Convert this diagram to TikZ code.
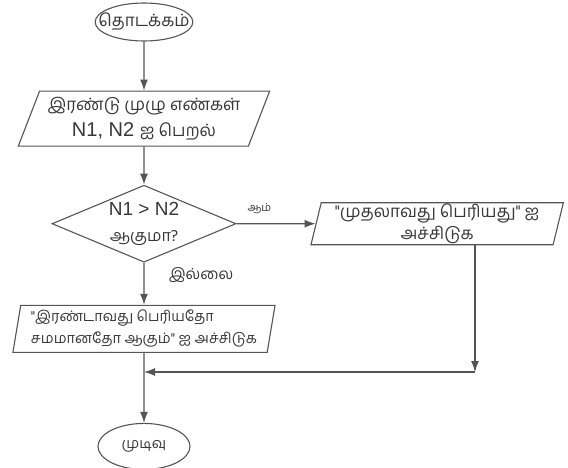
\documentclass[tikz,border=0pt]{standalone}
\usepackage{fontspec}
\setmainfont{Liberation Sans}
\newfontfamily\tamil[Script=Tamil,Scale=0.85]{Hind Madurai}
\usetikzlibrary{arrows.meta,shapes.geometric,positioning}
\definecolor{linegray}{RGB}{85,85,85}
\definecolor{textgray}{RGB}{55,55,55}

\begin{document}
\begin{tikzpicture}[>={Latex[length=11pt,width=8pt]},x=1pt,y=-1pt,
    font=\fontsize{20}{26}\selectfont]

  \tikzstyle{term}=[ellipse, draw=linegray, line width=1.1pt, text=textgray, inner ysep=0pt];
  \tikzstyle{io}=[trapezium, draw=linegray, line width=1.1pt, trapezium stretches=true,
    text=textgray, inner sep=2pt, align=center];
  \tikzstyle{dec}=[diamond, draw=linegray, line width=1.1pt, text=textgray, inner sep=-4pt,
    aspect=2.4, align=center, minimum width=184pt, minimum height=77pt];
  \tikzstyle{flow}=[draw=linegray, line width=1.1pt, ->];
  \tikzstyle{lbl}=[text=textgray];

  \useasboundingbox (0,0) rectangle (568,468);

  \node [term, minimum width=97pt, minimum height=38pt, inner xsep=-11pt] (start)
    at (144,22) {\tamil தொடக்கம்};

  \node [io, below=49pt of start, minimum width=252pt, minimum height=55pt,
    trapezium left angle=67, trapezium right angle=113] (input)
    {\tamil இரண்டு முழு எண்கள்\\N1, N2 {\tamil ஐ பெறல்}};

  \node [dec, below=38pt of input, font=\fontsize{19}{26}\selectfont] (test)
    {N1 > N2\\{\tamil ஆகுமா?}};

  \node [io, right=79pt of test, minimum width=253pt, minimum height=42pt,
    inner ysep=0pt, trapezium left angle=77, trapezium right angle=103,
    font=\fontsize{20}{22}\selectfont] (pyes)
    {\tamil "முதலாவது பெரியது" ஐ\\\tamil அச்சிடுக};

  \node [io, below=42pt of test, minimum width=263pt, minimum height=47pt,
    trapezium left angle=80, trapezium right angle=100, align=left,
    font=\fontsize{17}{22}\selectfont] (pno)
    {\tamil "இரண்டாவது பெரியதோ\\\tamil சமமானதோ ஆகும்" ஐ அச்சிடுக};

  \node [term, below=70pt of pno, minimum width=92pt, minimum height=46pt,
    font=\fontsize{17}{20}\selectfont] (end) {\tamil முடிவு};

  \coordinate (join) at (475,372);

  \draw[flow] (start) -- (input);
  \draw[flow] (input) -- (test);
  \draw[flow] (test) -- node[lbl, above, pos=0.29, yshift=6pt,
    font=\tamil\fontsize{13}{15}\selectfont] {ஆம்} (pyes);
  \draw[flow] (test) -- node[lbl, right, pos=0.29, xshift=21pt,
    font=\tamil\fontsize{18}{20}\selectfont] {இல்லை} (pno);
  \draw[flow] (pyes.south -| join) -- (join);
  \draw[flow] (join) -- (join -| pno.south);
  \draw[flow] (pno) -- (end);

\end{tikzpicture}
\end{document}
